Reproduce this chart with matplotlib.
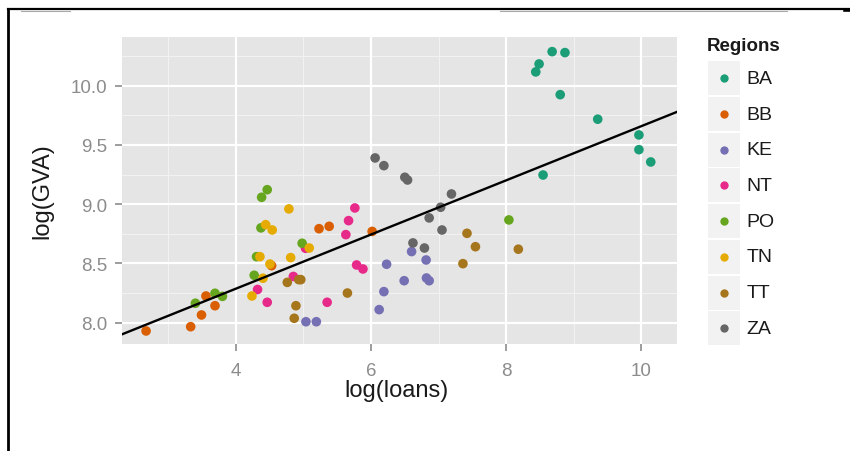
import matplotlib
matplotlib.use("Agg")
import matplotlib.pyplot as plt
from matplotlib.patches import Rectangle
from matplotlib.lines import Line2D
import numpy as np

plt.rcParams['font.family'] = ['Liberation Sans', 'DejaVu Sans']

regions = ["BA", "BB", "KE", "NT", "PO", "TN", "TT", "ZA"]
colors = ["#1B9E77", "#D95F02", "#7570B3", "#E7298A", "#66A61E", "#E6AB02", "#A6761D", "#666666"]

ba_x = [8.68, 8.87, 8.487, 8.438, 8.80, 9.355, 9.965, 9.965, 10.14, 8.546]
ba_y = [10.287, 10.279, 10.183, 10.116, 9.924, 9.717, 9.584, 9.46, 9.356, 9.246]
bb_x = [2.67, 3.33, 3.49, 3.556, 3.69, 4.528, 5.23, 5.38, 6.016]
bb_y = [7.93, 7.966, 8.065, 8.225, 8.143, 8.481, 8.793, 8.813, 8.77]
ke_x = [5.036, 5.19, 6.12, 6.19, 6.23, 6.49, 6.60, 6.815, 6.82, 6.86]
ke_y = [8.008, 8.008, 8.11, 8.262, 8.493, 8.354, 8.60, 8.529, 8.377, 8.354]
nt_x = [4.32, 4.463, 4.85, 5.03, 5.35, 5.627, 5.667, 5.76, 5.786, 5.88]
nt_y = [8.28, 8.172, 8.39, 8.628, 8.172, 8.743, 8.861, 8.968, 8.487, 8.453]
po_x = [3.40, 3.69, 3.80, 4.27, 4.305, 4.37, 4.38, 4.463, 4.98, 8.04]
po_y = [8.164, 8.248, 8.222, 8.40, 8.557, 8.80, 9.058, 9.122, 8.67, 8.867]
tn_x = [4.237, 4.355, 4.40, 4.44, 4.503, 4.537, 4.784, 4.81, 5.085]
tn_y = [8.225, 8.557, 8.375, 8.827, 8.495, 8.782, 8.96, 8.549, 8.63]
tt_x = [4.76, 4.93, 4.96, 4.888, 4.863, 5.65, 7.36, 7.42, 7.545, 8.18]
tt_y = [8.34, 8.363, 8.363, 8.143, 8.037, 8.25, 8.498, 8.754, 8.641, 8.62]
za_x = [6.06, 6.19, 6.50, 6.54, 6.62, 6.79, 6.86, 7.03, 7.05, 7.19]
za_y = [9.39, 9.325, 9.227, 9.204, 8.673, 8.63, 8.884, 8.974, 8.782, 9.086]

xs = [ba_x, bb_x, ke_x, nt_x, po_x, tn_x, tt_x, za_x]
ys = [ba_y, bb_y, ke_y, nt_y, po_y, tn_y, tt_y, za_y]

fit_intercept = 7.373
fit_slope = 0.2285

x_ticks = [4, 6, 8, 10]
y_ticks = [8.0, 8.5, 9.0, 9.5, 10.0]
x_minor = [3, 5, 7, 9]
y_minor = [8.25, 8.75, 9.25, 9.75, 10.25]

W, H = 850, 452
fig = plt.figure(figsize=(W / 100, H / 100), dpi=100)
ax = fig.add_axes([122.3 / W, 1 - 345 / H, (676.7 - 122.3) / W, (345 - 38.3) / H])
ax.set_facecolor("#E5E5E5")
for s in ax.spines.values():
    s.set_visible(False)

xlim = (2.318, 10.524)
ylim = (7.82, 10.408)
ax.set_xlim(*xlim)
ax.set_ylim(*ylim)

for v in x_minor:
    ax.axvline(v, color="#F2F2F2", lw=0.8, zorder=0)
for v in y_minor:
    ax.axhline(v, color="#F2F2F2", lw=0.8, zorder=0)
for v in x_ticks:
    ax.axvline(v, color="white", lw=1.6, zorder=0.5)
for v in y_ticks:
    ax.axhline(v, color="white", lw=1.6, zorder=0.5)

for xv, yv, c in zip(xs, ys, colors):
    ax.scatter(xv, yv, s=48, color=c, edgecolors="none", zorder=2)

lx = np.array(xlim)
ax.plot(lx, fit_intercept + fit_slope * lx, color="black", lw=1.7, zorder=3)

ax.set_xticks(x_ticks)
ax.set_xticklabels([str(t) for t in x_ticks])
ax.set_yticks(y_ticks)
ax.set_yticklabels([f"{t:.1f}" for t in y_ticks])
ax.tick_params(axis="both", colors="#8C8C8C", labelcolor="#8C8C8C", length=5, width=1.2, labelsize=13.5)
ax.tick_params(axis="x", pad=8)
ax.tick_params(axis="y", pad=6)

fig.text(397 / W, 1 - 391 / H, "log(loans)", ha="center", va="center", fontsize=17, color="#1A1A1A")
fig.text(42 / W, 1 - 191.5 / H, "log(GVA)", ha="center", va="center", rotation=90, fontsize=17, color="#1A1A1A")

# legend
fig.text(706.7 / W, 1 - 46.7 / H, "Regions", ha="left", va="center", fontsize=13.5, fontweight="bold", color="#1A1A1A")
for i, (r, c) in enumerate(zip(regions, colors)):
    cy = 79.3 + i * 35.7
    fig.add_artist(Rectangle((707.7 / W, 1 - (cy + 17) / H), 32.5 / W, 34 / H,
                             transform=fig.transFigure, facecolor="#F2F2F2", edgecolor="none"))
    fig.add_artist(Line2D([724 / W], [1 - cy / H], marker="o", markersize=6, color=c,
                          markeredgewidth=0, linestyle="none", transform=fig.transFigure))
    fig.text(746.7 / W, 1 - cy / H, r, ha="left", va="center", fontsize=14, color="#1A1A1A")

# outer frame
fig.add_artist(Line2D([7.5 / W, 1.0], [1 - 10 / H, 1 - 10 / H], color="black", lw=1.6, transform=fig.transFigure))
fig.add_artist(Line2D([845 / W, 1.0], [1 - 10.5 / H, 1 - 10.5 / H], color="black", lw=2.6, transform=fig.transFigure))
fig.add_artist(Line2D([21 / W, 70 / W], [1 - 11.5 / H, 1 - 11.5 / H], color="#AAAAAA", lw=0.8, transform=fig.transFigure))
fig.add_artist(Line2D([500 / W, 787 / W], [1 - 11.5 / H, 1 - 11.5 / H], color="#AAAAAA", lw=0.8, transform=fig.transFigure))
fig.add_artist(Line2D([7.8 / W, 7.8 / W], [1 - 9.5 / H, 0], color="black", lw=2.0, transform=fig.transFigure))

fig.savefig("out.png", dpi=100)
